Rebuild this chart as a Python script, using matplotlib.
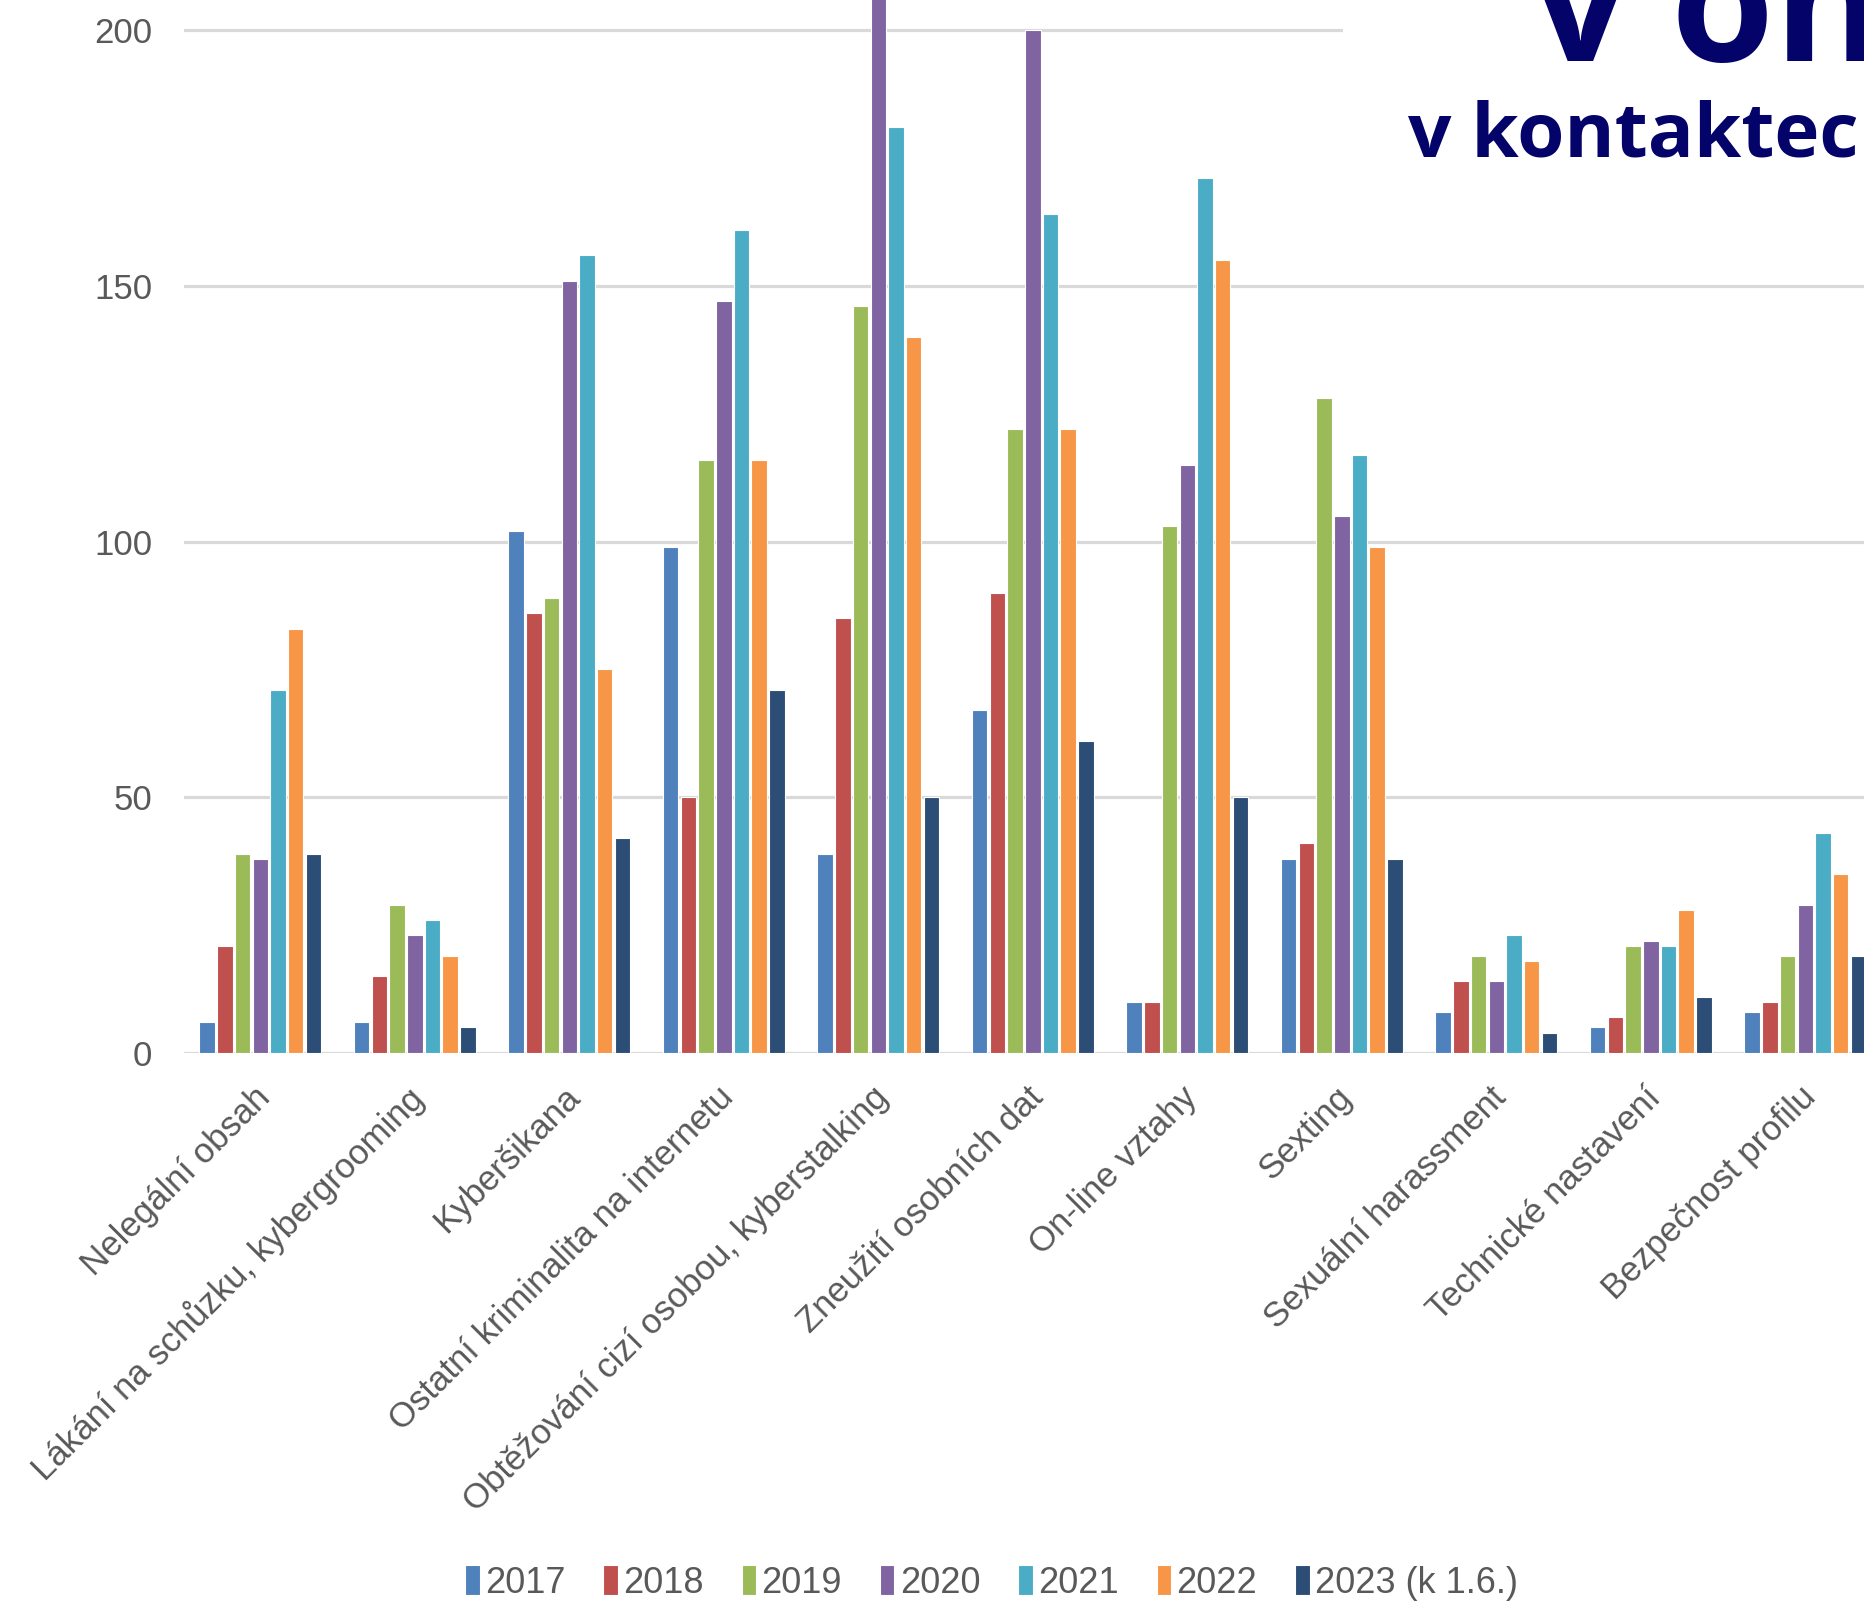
import numpy as np
import matplotlib
matplotlib.use("Agg")
import matplotlib.pyplot as plt
import matplotlib.transforms as mtransforms
from matplotlib.patches import Rectangle

plt.rcParams['font.family'] = ['Liberation Sans', 'DejaVu Sans']

categories = ["Nelegální obsah",
              "Lákání na schůzku, kybergrooming",
              "Kyberšikana",
              "Ostatní kriminalita na internetu",
              "Obtěžování cizí osobou, kyberstalking",
              "Zneužití osobních dat",
              "On-line vztahy",
              "Sexting",
              "Sexuální harassment",
              "Technické nastavení",
              "Bezpečnost profilu"]

years = ["2017", "2018", "2019", "2020", "2021", "2022", "2023 (k 1.6.)"]

v2017 = [6, 6, 102, 99, 39, 67, 10, 38, 8, 5, 8]
v2018 = [21, 15, 86, 50, 85, 90, 10, 41, 14, 7, 10]
v2019 = [39, 29, 89, 116, 146, 122, 103, 128, 19, 21, 19]
v2020 = [38, 23, 151, 147, 212, 200, 115, 105, 14, 22, 29]
v2021 = [71, 26, 156, 161, 181, 164, 171, 117, 23, 21, 43]
v2022 = [83, 19, 75, 116, 140, 122, 155, 99, 18, 28, 35]
v2023 = [39, 5, 42, 71, 50, 61, 50, 38, 4, 11, 19]
series = [v2017, v2018, v2019, v2020, v2021, v2022, v2023]

colors = ["#4F81BD", "#C0504D", "#9BBB59", "#8064A2", "#4BACC6", "#F79646", "#2C4D75"]

yticks = [0, 50, 100, 150, 200]

fig = plt.figure(figsize=(18.64, 16.04), dpi=100)
ax = fig.add_axes([0.0987, 0.3435, 0.9013, 0.6565])

x = np.arange(len(categories))
pitch = 0.1146
for i, (vals, c, lab) in enumerate(zip(series, colors, years)):
    ax.bar(x + (i - 3) * pitch, vals, width=0.1, color=c, edgecolor="white",
           linewidth=0.8, label=lab, zorder=3)

ax.set_xlim(-0.494, 10.38)
ax.set_ylim(0, 205.9)
ax.set_yticks(yticks)
ax.yaxis.grid(True, color="#D9D9D9", linewidth=2.3, zorder=0)
ax.set_axisbelow(True)
for s in ax.spines.values():
    s.set_visible(False)
ax.tick_params(axis="y", length=0, pad=23, labelsize=25, labelcolor="#595959")
ax.tick_params(axis="x", length=0, pad=20, labelsize=25, labelcolor="#595959")
ax.set_xticks(x)
ax.set_xticklabels(categories, rotation=45, ha="right")
shift = mtransforms.ScaledTranslation(12 / 72, 0, fig.dpi_scale_trans)
for lbl in ax.get_xticklabels():
    lbl.set_transform(lbl.get_transform() + shift)

# white patch behind title text
fig.patches.append(Rectangle((0.7205, 0.863), 0.3, 0.2, transform=fig.transFigure,
                             facecolor="white", edgecolor="none", zorder=5))

navy = "#03036A"
fig.text(1533 / 1864, 0.962, "v online", fontsize=120, fontweight="bold", family="Open Sans",
         color=navy, va="baseline", ha="left", zorder=6)
fig.text(1408 / 1864, 0.9023, "v kontaktech", fontsize=55, fontweight="bold", family="Open Sans",
         color=navy, va="baseline", ha="left", zorder=6)

leg = ax.legend(loc="center", bbox_to_anchor=(0.532, 1 - 1583 / 1604), bbox_transform=fig.transFigure,
                ncol=7, frameon=False, fontsize=26, handlelength=0.4, handleheight=0.9,
                handletextpad=0.15, columnspacing=1.05, labelcolor="#595959")

fig.savefig("out.png", dpi=100)
